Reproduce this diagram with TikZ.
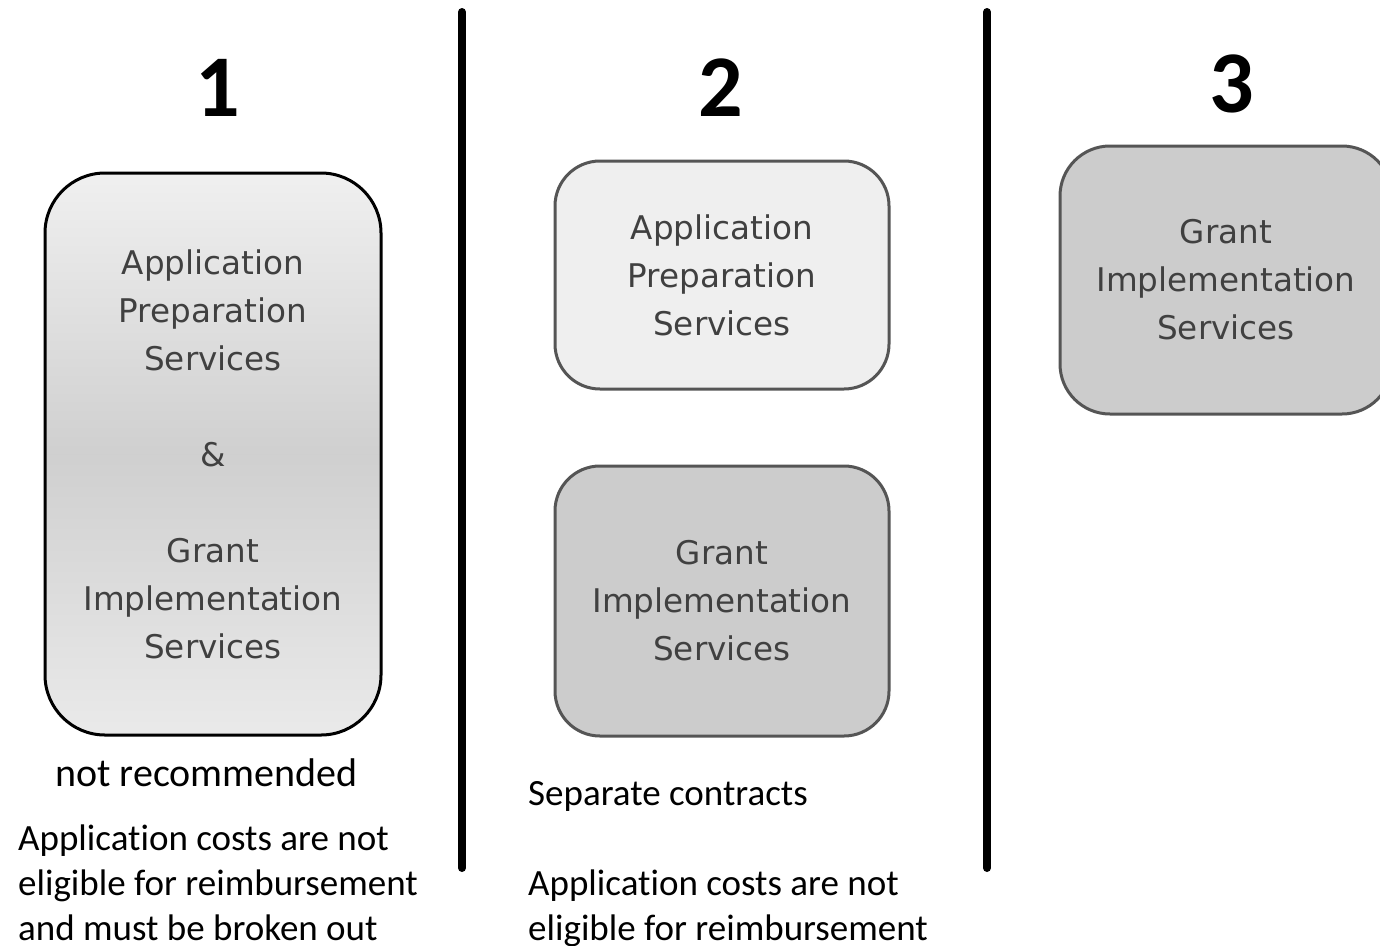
\documentclass[tikz,border=0pt]{standalone}
\usepackage{fontspec}
\setmainfont{Carlito}[Ligatures=NoCommon]
\newfontfamily\boxfont{DejaVu Sans}
\definecolor{boxtext}{HTML}{404040}
\definecolor{boxedge}{HTML}{555555}
\definecolor{lightfill}{HTML}{EFEFEF}
\definecolor{darkfill}{HTML}{CCCCCC}
\tikzset{
  svcbox/.style={draw, line width=3pt, rectangle, align=center, text=boxtext, inner sep=0pt,
    font=\boxfont\fontsize{32.6}{48}\selectfont},
  numlabel/.style={font=\bfseries\fontsize{88}{90}\selectfont, inner sep=0pt},
  note/.style={font=\fontsize{37}{45}\selectfont, inner sep=0pt, align=left},
  divider/.style={line width=8pt, line cap=round}
}
\begin{document}
\begin{tikzpicture}[x=1pt,y=-1pt]
\clip (0,0) rectangle (1380,945);
\fill[white] (0,0) rectangle (1380,945);
% numbers
\node[numlabel] (n1) at (218,88) {1};
\node[numlabel] (n2) at (721,88) {2};
\node[numlabel] (n3) at (1232,84) {3};
% dividers
\draw[divider] (462,12) -- (462,868);
\draw[divider] (987,12) -- (987,868);
% box 1
\node[svcbox, draw=black, rounded corners=60pt, minimum width=336pt, minimum height=562pt,
  top color=lightfill!95!white, bottom color=lightfill!85!darkfill, middle color=darkfill!90!lightfill]
  (b1) at (213,454) {Application\\Preparation\\Services\\[48pt]\&\\[48pt]Grant\\Implementation\\Services};
% column 2
\node[svcbox, draw=boxedge, fill=lightfill, rounded corners=45pt, minimum width=334pt, minimum height=228pt]
  (b2a) at (722,275) {Application\\Preparation\\Services};
\node[svcbox, draw=boxedge, fill=darkfill, rounded corners=45pt, minimum width=334pt, minimum height=270pt]
  (b2b) at (722,601) {Grant\\Implementation\\Services};
% column 3
\node[svcbox, draw=boxedge, fill=darkfill, rounded corners=50pt, minimum width=332pt, minimum height=268pt]
  (b3) at (1226,280) {Grant\\Implementation\\Services};
% notes
\node[note, anchor=west, font=\fontsize{40}{45}\selectfont] (t1) at (55,773) {not recommended};
\node[note, anchor=north west] (t2) at (18,825) {Application costs are not\\eligible for reimbursement\\and must be broken out};
\node[note, anchor=west] (t3) at (528,796) {Separate contracts};
\node[note, anchor=north west] (t4) at (528,870) {Application costs are not\\eligible for reimbursement};
\end{tikzpicture}
\end{document}
